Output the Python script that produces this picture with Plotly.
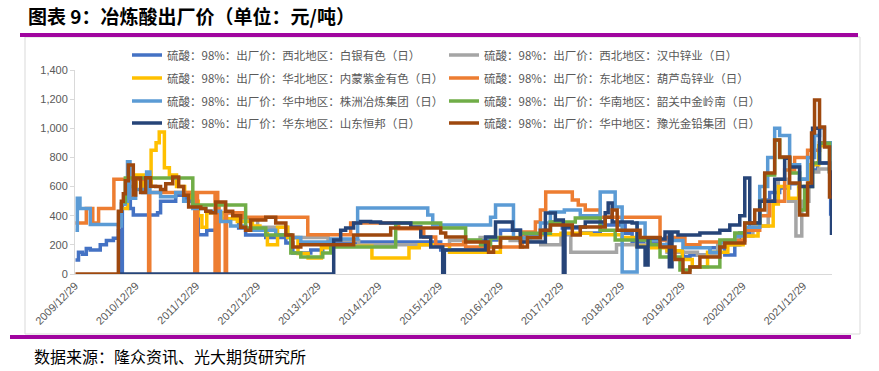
import plotly.graph_objects as go

# ---------------- data ----------------
names = [
    "硫酸：98%：出厂价：西北地区：白银有色（日）",
    "硫酸：98%：出厂价：西北地区：汉中锌业（日）",
    "硫酸：98%：出厂价：华北地区：内蒙紫金有色（日）",
    "硫酸：98%：出厂价：东北地区：葫芦岛锌业（日）",
    "硫酸：98%：出厂价：华中地区：株洲冶炼集团（日）",
    "硫酸：98%：出厂价：华南地区：韶关中金岭南（日）",
    "硫酸：98%：出厂价：华东地区：山东恒邦（日）",
    "硫酸：98%：出厂价：华中地区：豫光金铅集团（日）",
]
colors = ["#4472C4", "#A5A5A5", "#FFC000", "#ED7D31", "#5B9BD5", "#70AD47", "#264478", "#9E480E"]

baiyin_dates = ["2010-01-01","2010-01-19","2010-02-12","2010-03-07","2010-03-31","2010-05-30","2010-07-06","2010-08-17","2010-09-16","2010-10-04","2010-10-10","2010-11-15","2010-11-27","2010-12-15","2011-05-10","2011-05-28","2011-08-27","2011-10-26","2011-12-08","2012-01-10","2012-03-01","2012-04-24","2012-05-24","2012-09-09","2012-10-21","2013-02-19","2013-06-20","2013-08-01","2013-11-17","2014-01-28","2014-08-14","2016-01-08","2016-09-22","2017-01-02","2017-05-02","2017-08-30","2017-10-29","2018-01-09","2018-04-27","2018-08-25","2019-01-22","2019-03-05","2019-08-20","2019-10-19","2020-01-05","2020-02-16","2020-06-15","2020-09-13","2020-11-12","2020-12-12","2021-02-10","2021-04-11","2021-06-10","2021-08-09","2021-10-08","2021-12-07","2022-02-05","2022-03-25","2022-06-05","2022-06-12"]
baiyin_values = [96,150,135,175,165,200,230,245,300,0,480,520,450,405,420,500,540,500,460,270,300,390,420,315,268,250,213,144,165,213,220,165,233,300,260,300,357,315,281,336,280,220,200,150,120,130,180,130,200,281,350,507,560,590,620,650,713,761,761,400]

hanzhong_dates = ["2012-07-01","2013-01-01","2013-07-01","2014-03-01","2014-09-01","2016-03-01","2016-09-01","2017-03-01","2017-09-01","2018-01-01","2018-03-01","2018-12-01","2019-06-01","2019-10-01","2020-04-01","2020-08-01","2020-12-01","2021-03-01","2021-06-01","2021-08-01","2021-10-01","2021-11-15","2021-12-20","2022-02-01","2022-04-01","2022-06-17"]
hanzhong_values = [380,320,250,230,200,230,250,230,200,270,150,200,230,150,130,200,260,330,500,650,500,260,500,700,720,600]

neimeng_dates = ["2010-10-16","2010-11-10","2011-01-01","2011-02-15","2011-04-01","2011-05-01","2011-05-20","2011-06-20","2011-07-20","2011-09-01","2011-10-20","2011-12-01","2012-01-10","2012-02-01","2012-03-01","2012-06-01","2012-09-01","2012-12-01","2013-01-15","2013-03-01","2013-05-01","2013-07-01","2013-09-01","2013-11-01","2014-01-20","2014-04-01","2014-11-20","2015-07-01","2015-09-01","2016-03-01","2016-06-01","2017-01-01","2017-07-01","2018-01-01","2018-07-01","2019-01-01","2019-04-01","2019-07-01","2019-10-01","2020-01-01","2020-03-01","2020-06-01","2020-10-01","2021-01-01","2021-04-01","2021-07-01","2021-08-01","2021-10-01","2021-12-01","2022-02-01","2022-04-01","2022-06-17"]
neimeng_values = [450,600,680,600,850,900,975,730,680,600,560,500,400,320,420,380,360,330,300,200,320,250,140,110,180,190,110,180,200,150,150,250,270,280,270,250,190,180,160,100,50,150,200,260,330,480,600,520,600,750,880,900]

huludao_dates = ["2010-01-01","2010-03-07","2010-04-15","2010-05-20","2010-08-20","2011-03-17","2011-03-24","2011-12-20","2012-01-05","2012-04-20","2012-04-28","2012-05-06","2012-05-14","2012-06-20","2012-06-28","2012-10-01","2013-10-30","2014-07-15","2015-04-30","2015-09-28","2015-12-09","2016-05-25","2016-06-06","2017-05-14","2017-07-31","2017-08-30","2017-10-01","2018-03-10","2018-04-15","2018-05-27","2018-08-25","2019-08-20","2019-09-19","2020-01-17","2020-04-16","2020-09-13","2021-01-11","2021-04-11","2021-06-10","2021-09-08","2021-11-07","2022-01-24","2022-04-06","2022-06-17"]
huludao_values = [350,450,350,450,650,0,560,0,560,0,560,0,480,0,420,390,270,350,310,254,200,220,185,288,357,439,563,508,473,439,390,233,250,200,220,230,300,400,500,713,800,850,900,700]

zhuzhou_dates = ["2010-01-01","2010-01-12","2010-01-28","2010-03-31","2010-09-16","2010-10-04","2010-10-28","2010-11-10","2010-11-25","2010-12-29","2011-02-10","2011-03-05","2011-03-25","2011-05-28","2011-08-27","2011-10-14","2011-12-08","2012-02-24","2012-05-24","2012-07-23","2012-10-21","2013-04-20","2013-07-20","2013-09-18","2014-03-17","2014-08-26","2015-10-22","2015-11-21","2016-11-03","2016-12-03","2017-03-21","2017-07-01","2017-08-30","2017-10-29","2018-01-21","2018-04-27","2018-08-25","2018-11-23","2019-01-04","2019-04-04","2019-05-22","2019-08-20","2019-10-19","2020-01-05","2020-04-16","2020-06-15","2020-08-14","2020-11-12","2021-01-11","2021-04-11","2021-05-29","2021-07-10","2021-08-09","2021-10-08","2021-12-07","2022-01-24","2022-03-07","2022-04-06","2022-05-06","2022-06-17"]
zhuzhou_values = [300,520,450,340,330,480,500,770,520,580,560,700,560,530,560,500,450,430,360,330,300,270,250,220,240,453,405,336,390,473,247,260,350,425,440,400,563,460,14,350,233,200,230,180,180,150,220,260,320,600,800,1000,950,750,650,800,950,1000,900,650]

shaoguan_dates = ["2010-10-16","2010-10-28","2011-12-08","2012-10-21","2013-02-19","2013-07-20","2013-09-18","2014-01-28","2014-03-17","2015-04-12","2016-01-08","2016-06-06","2016-09-04","2016-11-03","2017-05-02","2017-10-29","2018-03-28","2018-08-25","2018-11-23","2019-06-21","2019-08-20","2019-12-18","2020-02-16","2020-08-14","2020-11-12","2021-01-11","2021-04-11","2021-05-11","2021-07-10","2021-08-09","2021-10-08","2021-12-07","2022-01-06","2022-02-23","2022-04-06","2022-06-05"]
shaoguan_values = [494,658,473,315,268,144,117,144,185,350,315,233,200,247,280,357,384,300,233,200,117,27,48,233,281,350,500,679,919,800,693,439,600,761,898,693]

hengbang_dates = ["2010-09-16","2014-04-04","2014-05-16","2014-06-15","2014-08-02","2014-09-13","2014-11-12","2015-01-11","2015-07-12","2015-09-10","2015-11-09","2016-01-20","2016-01-30","2016-09-22","2016-10-04","2016-12-03","2017-03-15","2017-05-02","2017-09-29","2017-11-28","2018-01-15","2018-01-25","2018-05-27","2018-09-24","2018-10-12","2018-11-05","2019-03-05","2019-04-04","2019-05-22","2019-06-09","2019-08-20","2019-09-19","2019-10-15","2019-10-31","2019-12-06","2020-04-16","2020-08-14","2020-10-13","2020-12-12","2021-01-11","2021-02-10","2021-04-11","2021-07-10","2021-09-08","2021-10-08","2021-12-07","2022-02-23","2022-04-06","2022-06-05","2022-06-17"]
hengbang_values = [0,233,300,315,350,360,357,350,322,254,185,0,165,165,254,357,300,220,418,370,0,322,357,420,487,357,350,185,62,247,240,288,50,288,267,281,300,336,400,658,350,500,650,795,734,600,1000,761,700,267]

yuguang_dates = ["2010-01-01","2010-09-16","2010-10-04","2010-10-16","2010-10-28","2010-11-15","2010-12-15","2010-12-29","2011-01-28","2011-02-27","2011-03-29","2011-04-28","2011-05-28","2011-06-28","2011-08-09","2011-09-14","2011-10-14","2011-11-13","2012-01-25","2012-02-24","2012-03-25","2012-04-24","2012-06-23","2012-08-04","2012-09-21","2012-10-21","2012-11-20","2013-02-19","2013-04-20","2013-06-20","2013-08-01","2013-09-18","2014-08-02","2015-03-13","2016-01-08","2016-02-07","2016-06-06","2016-10-22","2016-11-21","2017-01-02","2017-05-02","2017-06-13","2017-08-30","2017-10-29","2018-03-10","2018-04-27","2018-09-24","2018-11-05","2018-12-05","2019-04-22","2019-08-20","2019-11-18","2020-01-05","2020-02-16","2020-04-16","2020-08-14","2020-09-13","2021-01-11","2021-03-12","2021-05-11","2021-07-10","2021-08-09","2021-10-08","2021-12-07","2022-01-24","2022-02-17","2022-03-07","2022-04-06","2022-05-06","2022-06-05","2022-06-17"]
yuguang_values = [0,430,500,550,640,748,542,658,560,660,602,600,580,620,665,600,540,460,450,430,420,494,430,400,320,300,370,390,350,268,185,200,267,315,281,254,220,150,185,247,185,250,300,336,267,322,390,439,300,250,185,100,7,48,117,185,213,350,439,693,919,803,624,405,624,967,1194,1008,871,528,528]

tick_dates = ["2009-12-29","2010-12-29","2011-12-29","2012-12-29","2013-12-29","2014-12-29",
              "2015-12-29","2016-12-29","2017-12-29","2018-12-29","2019-12-29","2020-12-29","2021-12-29"]
tick_labels = [d.replace("-", "/") for d in tick_dates]

series = [
    (baiyin_dates, baiyin_values),
    (hanzhong_dates, hanzhong_values),
    (neimeng_dates, neimeng_values),
    (huludao_dates, huludao_values),
    (zhuzhou_dates, zhuzhou_values),
    (shaoguan_dates, shaoguan_values),
    (hengbang_dates, hengbang_values),
    (yuguang_dates, yuguang_values),
]

# ---------------- layout helpers (pixel -> paper) ----------------
W, H = 879, 371
PL, PR, PT, PB = 75, 832, 70, 274   # plot area in pixels


def px(x):
    return (x - PL) / (PR - PL)


def py(y):
    return (PB - y) / (PB - PT)


fig = go.Figure()
legend_names = ["legend", "legend2", "legend3", "legend4"]
for i, ((d, v), name, col) in enumerate(zip(series, names, colors)):
    assert len(d) == len(v), name
    fig.add_trace(go.Scatter(
        x=d, y=v, name=name, mode="lines",
        line=dict(color=col, width=3.5, shape="hv"),
        legend=legend_names[i // 2],
    ))

row_y = [55, 78, 101, 123]
legend_common = dict(
    orientation="h", xanchor="left", yanchor="middle",
    x=px(127), entrywidth=272, entrywidthmode="pixels",
    bgcolor="rgba(0,0,0,0)", borderwidth=0,
    font=dict(family="Noto Sans CJK SC", size=11.5, color="#595959"),
    itemclick=False, itemdoubleclick=False,
)
legends = {}
for k, ln in enumerate(legend_names):
    legends[ln] = dict(legend_common, y=py(row_y[k]))

axis_font = dict(family="Liberation Sans, Arial", size=11, color="#595959")

fig.update_layout(
    width=W, height=H,
    margin=dict(l=PL, r=W - PR, t=PT, b=H - PB),
    paper_bgcolor="white", plot_bgcolor="white",
    showlegend=True,
    title=dict(
        text="<b>图表 9：冶炼酸出厂价（单位：元/吨）</b>",
        x=28 / W, y=1 - 17 / H, xanchor="left", yanchor="middle",
        font=dict(family="Noto Sans CJK SC", size=19, color="#000000"),
    ),
    xaxis=dict(
        type="date", range=["2009-12-29", "2022-06-20"],
        tickvals=tick_dates, ticktext=tick_labels, tickangle=-45,
        showgrid=False, zeroline=False, showline=True, linecolor="#D9D9D9", linewidth=1,
        ticks="", tickfont=axis_font,
    ),
    yaxis=dict(
        range=[0, 1400], dtick=200, tickformat=",",
        showgrid=False, zeroline=False, showline=True, linecolor="#D9D9D9", linewidth=1,
        ticks="outside", ticklen=4, tickcolor="#D9D9D9", tickfont=axis_font,
    ),
    **legends,
)

purple = "#A0059F"
fig.add_shape(type="rect", xref="paper", yref="paper",
              x0=px(25), x1=px(860), y0=py(334), y1=py(37),
              line=dict(color="#D9D9D9", width=1), layer="below")
fig.add_shape(type="line", xref="paper", yref="paper",
              x0=px(20), x1=px(858), y0=py(35), y1=py(35),
              line=dict(color=purple, width=4))
fig.add_shape(type="line", xref="paper", yref="paper",
              x0=px(10), x1=px(851), y0=py(337), y1=py(337),
              line=dict(color=purple, width=4))

fig.add_annotation(
    text="数据来源：隆众资讯、光大期货研究所",
    xref="paper", yref="paper", x=px(32), y=py(356),
    xanchor="left", yanchor="middle", showarrow=False,
    font=dict(family="Noto Sans CJK SC", size=16, color="#000000"),
)

fig.write_html("out.html")
